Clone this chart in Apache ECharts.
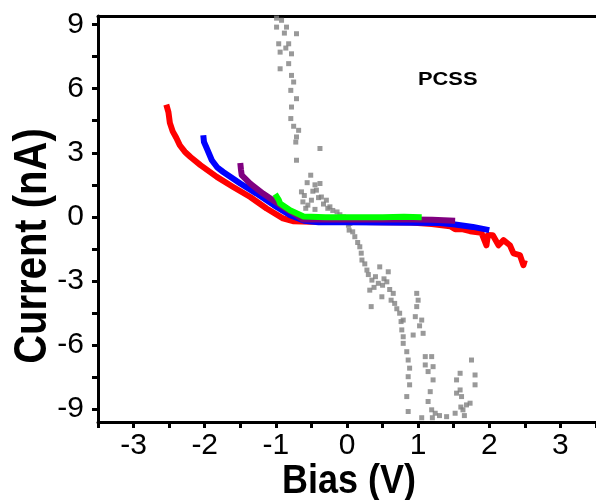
<!DOCTYPE html>
<html>
<head>
<meta charset="utf-8">
<script src="https://cdn.jsdelivr.net/npm/echarts@6/dist/echarts.min.js"></script>
<style>html,body{margin:0;padding:0;background:#fff}#c{width:596px;height:500px}</style>
</head>
<body>
<div id="c"></div>
<script>
var xTickLabels = [-3, -2, -1, 0, 1, 2, 3];
var xTicks = [-3.5, -3, -2.5, -2, -1.5, -1, -0.5, 0, 0.5, 1, 1.5, 2, 2.5, 3, 3.5];
var yTickLabels = [-9, -6, -3, 0, 3, 6, 9];
var yTicks = [-9, -7.5, -6, -4.5, -3, -1.5, 0, 1.5, 3, 4.5, 6, 7.5, 9];

var redData = [[-2.54,5.25],[-2.51,4.9],[-2.49,4.4],[-2.45,4.0],[-2.4,3.7],[-2.35,3.35],[-2.28,3.05],[-2.2,2.8],[-2.06,2.42],[-1.83,1.87],[-1.6,1.4],[-1.36,0.93],[-1.13,0.39],[-0.9,-0.07],[-0.76,-0.2],[-0.5,-0.23],[0,-0.23],[0.5,-0.25],[0.9,-0.26],[1.19,-0.34],[1.45,-0.44],[1.52,-0.58],[1.63,-0.58],[1.73,-0.67],[1.89,-0.75],[1.96,-1.33],[1.98,-0.85],[2.05,-0.86],[2.13,-1.33],[2.2,-1.09],[2.29,-1.33],[2.34,-1.71],[2.43,-1.79],[2.48,-2.26],[2.5,-2.03]];
var blueData = [[-2.02,3.82],[-2.01,3.5],[-1.97,3.2],[-1.9,2.65],[-1.82,2.3],[-1.74,2.1],[-1.5,1.56],[-1.27,1.09],[-1.03,0.55],[-0.8,0.08],[-0.6,-0.18],[-0.4,-0.25],[0,-0.25],[0.5,-0.26],[1.0,-0.28],[1.3,-0.29],[1.52,-0.36],[1.77,-0.47],[2.0,-0.62]];
var purpleData = [[-1.5,2.52],[-1.49,2.2],[-1.48,1.95],[-1.36,1.56],[-1.18,1.09],[-0.94,0.55],[-0.71,0.08],[-0.62,-0.12],[-0.3,-0.12],[0.5,-0.12],[0.93,-0.12],[1.2,-0.14],[1.52,-0.18]];
var greenData = [[-1.01,1.06],[-0.96,0.8],[-0.94,0.62],[-0.8,0.31],[-0.61,0.02],[-0.3,-0.02],[0,-0.02],[0.5,-0.02],[0.8,0.0],[1.05,-0.02]];
var grayData = [
[-0.99,9.3],[-0.92,9.2],[-0.99,8.88],[-0.85,8.88],[-0.71,8.57],[-0.88,8.6],[-0.96,8.1],[-0.82,8.1],[-0.86,7.9],[-0.94,7.71],[-0.78,7.63],[-0.82,7.17],[-0.94,6.93],[-0.78,6.62],[-0.75,6.31],[-0.79,5.92],[-0.71,5.53],[-0.78,5.14],[-0.79,4.6],[-0.75,4.24],[-0.68,4.05],[-0.71,3.74],[-0.72,3.5],[-0.38,3.2],[-0.71,2.65],
[-0.51,1.95],[-0.56,1.6],[-0.64,1.17],[-0.6,1.0],[-0.62,0.7],[-0.55,0.55],[-0.5,0.78],[-0.48,1.2],[-0.45,1.5],[-0.43,1.25],[-0.4,0.9],[-0.38,1.56],[-0.36,0.93],[-0.33,0.6],[-0.29,0.78],[-0.27,0.4],[-0.24,0.47],[-0.2,0.3],[-0.14,0.23],[-0.1,0.1],[-0.05,0],[-0.58,0.4],[-0.45,0.35],[0.02,-0.39],[0.03,-0.62],
[0.04,-0.31],[0.08,-0.7],[0.11,-0.93],[0.15,-1.2],[0.18,-1.4],[0.2,-1.7],[0.21,-2.02],[0.25,-2.2],[0.28,-2.49],[0.3,-2.7],[0.35,-2.96],[0.32,-3.43],[0.34,-4.2],[0.38,-3.3],[0.4,-2.8],[0.44,-3.11],[0.46,-2.34],[0.49,-3.74],[0.5,-3.2],[0.52,-2.9],[0.56,-3.04],[0.58,-2.57],[0.6,-3.4],[0.62,-3.9],[0.65,-3.58],[0.67,-4.05],[0.7,-4.3],[0.74,-4.51],[0.76,-4.9],[0.79,-4.83],[0.77,-5.29],[0.79,-5.61],[0.79,-5.92],[0.84,-6.31],[0.86,-6.7],[0.88,-7.08],[0.86,-7.48],[0.88,-7.86],[0.84,-8.41],[0.86,-9.11],
[0.93,-5.53],[0.96,-4.67],[0.98,-3.58],[0.98,-4.2],[1.0,-3.9],[1.05,-4.83],[1.07,-5.45],[1.02,-5.1],[1.1,-6.54],[1.19,-6.54],[1.1,-6.93],[1.14,-7.24],[1.21,-7.01],[1.21,-7.63],[1.17,-8.18],[1.14,-8.64],[1.19,-9.03],[1.24,-9.19],[1.3,-9.3],[1.4,-9.35],[1.52,-9.19],[1.63,-9.03],[1.68,-8.8],[1.59,-7.32],[1.54,-7.63],[1.59,-8.1],[1.61,-8.41],[1.75,-6.7],[1.8,-7.4],[1.8,-7.86],[1.73,-8.72],[1.54,-8.25],[1.6,-8.9],[1.65,-9.3],[1.2,-9.4],[1.05,-9.4]
];

var FONT = "'Liberation Sans', Arial, sans-serif";
var chart = echarts.init(document.getElementById('c'), null, {renderer: 'canvas'});

function lineSeries(data, color) {
  return {type: 'line', data: data, showSymbol: false, symbol: 'none', smooth: false,
    lineStyle: {color: color, width: 6, join: 'round'}, itemStyle: {color: color}};
}

chart.setOption({
  animation: false,
  backgroundColor: '#ffffff',
  grid: {left: 98, right: 0, top: 16, bottom: 78, containLabel: false},
  xAxis: [{
    type: 'value', min: -3.5, max: 3.5, position: 'bottom',
    axisLine: {show: true, onZero: false, lineStyle: {color: '#000', width: 3}},
    axisTick: {show: true, inside: false, length: 6, customValues: xTicks, lineStyle: {color: '#000', width: 3}},
    axisLabel: {show: true, customValues: xTickLabels, margin: 9, color: '#000', fontSize: 30, fontFamily: FONT},
    splitLine: {show: false}
  }, {
    type: 'value', min: -3.5, max: 3.5, position: 'top',
    axisLine: {show: true, onZero: false, lineStyle: {color: '#000', width: 3}},
    axisTick: {show: false}, axisLabel: {show: false}, splitLine: {show: false}
  }],
  yAxis: [{
    type: 'value', min: -9.6, max: 9.4,
    axisLine: {show: true, onZero: false, lineStyle: {color: '#000', width: 3}},
    axisTick: {show: true, inside: false, length: 6, customValues: yTicks, lineStyle: {color: '#000', width: 3}},
    axisLabel: {show: true, customValues: yTickLabels, margin: 14, color: '#000', fontSize: 30, fontFamily: FONT},
    splitLine: {show: false}
  }],
  series: [
    {type: 'scatter', data: grayData, symbol: 'rect', symbolSize: 5, itemStyle: {color: '#808080'}},
    lineSeries(redData, '#ff0000'),
    lineSeries(blueData, '#0000ff'),
    lineSeries(purpleData, '#800080'),
    lineSeries(greenData, '#00ff00')
  ],
  graphic: [
    {type: 'text', x: 33, y: 246, rotation: Math.PI / 2, scaleY: 1.15,
      style: {text: 'Current (nA)', font: 'bold 40px ' + FONT, fill: '#000', textAlign: 'center', textVerticalAlign: 'middle'}},
    {type: 'text', x: 349, y: 482, scaleY: 1.15,
      style: {text: 'Bias (V)', font: 'bold 36px ' + FONT, fill: '#000', textAlign: 'center', textVerticalAlign: 'middle'}},
    {type: 'text', x: 418, y: 80, scaleX: 1.15,
      style: {text: 'PCSS', font: 'bold 19px ' + FONT, fill: '#000', textAlign: 'left', textVerticalAlign: 'middle'}}
  ]
});
</script>
</body>
</html>
